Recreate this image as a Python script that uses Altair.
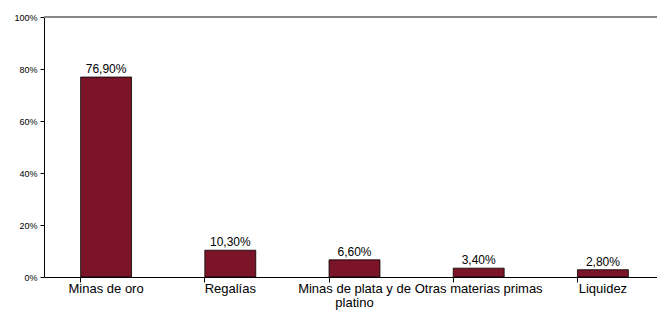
import altair as alt
import pandas as pd

categories = ["Minas de oro", "Regalías", "Minas de plata y de platino", "Otras materias primas", "Liquidez"]
values = [76.9, 10.3, 6.6, 3.4, 2.8]
y_ticks = [0, 20, 40, 60, 80, 100]

df = pd.DataFrame({"cat": categories, "val": values})

font = "Liberation Sans"

x = alt.X(
    "cat:N",
    sort=categories,
    scale=alt.Scale(paddingInner=0.59, paddingOuter=0.295, range=[0, 621]),
    axis=alt.Axis(
        title=None,
        labelAngle=0,
        labelFont=font,
        labelFontSize=13,
        labelColor="black",
        labelPadding=0,
        labelLimit=200,
        bandPosition=0,
        tickSize=5,
        tickColor="black",
        domainColor="black",
        labelExpr="datum.label == 'Minas de plata y de platino' ? ['Minas de plata y de', 'platino'] : datum.label",
        labelLineHeight=14,
    ),
)

y = alt.Y(
    "val:Q",
    scale=alt.Scale(domain=[0, 100], nice=False),
    axis=alt.Axis(
        title=None,
        values=y_ticks,
        labelExpr="datum.value + '%'",
        labelFont=font,
        labelFontSize=9,
        labelColor="black",
        labelPadding=3,
        tickSize=4,
        tickColor="black",
        domainColor="black",
        grid=False,
    ),
)

bars = alt.Chart(df).mark_bar(color="#7B1428", stroke="black", strokeWidth=0.8).encode(x=x, y=y)

text = alt.Chart(df).transform_calculate(
    lbl="replace(format(datum.val, '.2f'), '.', ',') + '%'"
).mark_text(baseline="bottom", dy=-1, font=font, fontSize=12, color="black").encode(
    x=alt.X("cat:N", sort=categories), y="val:Q", text="lbl:N"
)

top = alt.Chart(pd.DataFrame({"t": [100]})).mark_rule(color="#888888", strokeWidth=2).encode(
    y="t:Q", x=alt.value(0), x2=alt.value(621)
)

chart = alt.layer(bars, text, top).properties(
    width=613,
    height=260,
    autosize=alt.AutoSizeParams(type="none"),
    padding={"left": 36, "top": 9, "right": 0, "bottom": 33},
).configure_view(stroke=None)

chart.save("out.html", embed_options={"renderer": "svg", "actions": False})
